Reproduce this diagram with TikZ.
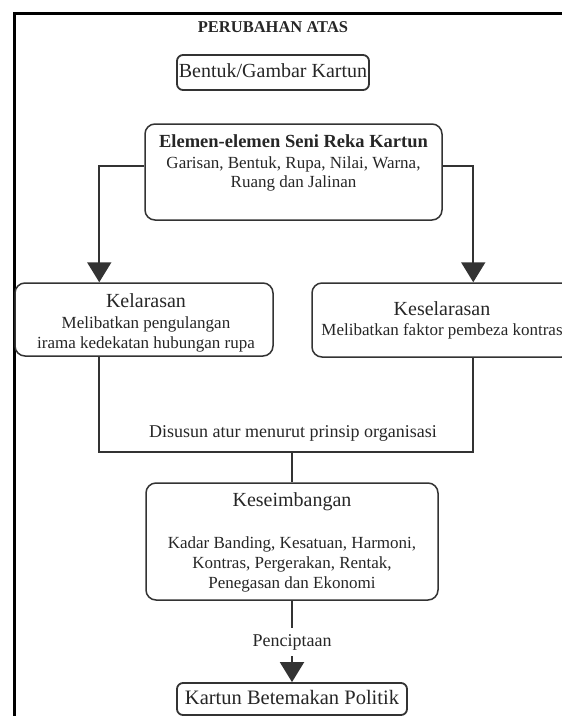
\documentclass[tikz,border=0pt]{standalone}
\usepackage{fontspec}
\setmainfont{Liberation Serif}
\usetikzlibrary{arrows.meta}
\tikzset{
  box/.style={draw=black!80,line width=1.5pt,rounded corners=10pt,inner sep=0pt},
  tag/.style={draw=black!80,line width=1.8pt,rounded corners=6pt,inner sep=0pt,
    text=black!85,text height=14pt,text depth=4pt,font=\fontsize{20}{24}\selectfont},
  head/.style={anchor=base,text=black!85,inner sep=0pt,font=\fontsize{20}{24}\selectfont},
  body/.style={anchor=base,text=black!85,inner sep=0pt,font=\fontsize{17}{20}\selectfont},
  link/.style={draw=black!80,line width=2pt},
  tip/.style={-{Triangle[width=24pt,length=20pt]}}
}
\begin{document}
\begin{tikzpicture}[x=1pt,y=-1pt]
    \useasboundingbox (0,0) rectangle (562,716);
    %% frame
    \draw[line width=3pt] (14,740) -- (14,13) -- (600,13);
    %% title
    \node[head,font=\bfseries\fontsize{16.5}{20}\selectfont] (title) at (273,32) {PERUBAHAN ATAS};
    \node[tag,minimum width=192pt,minimum height=35pt] (bentuk) at (273,72.5) {Bentuk/Gambar Kartun};
    %% elemen
    \node[box,minimum width=297pt,minimum height=96pt] (elemen) at (293.5,172) {};
    \node[head,font=\bfseries\fontsize{18.5}{22}\selectfont] (elemenT) at (293.5,147) {Elemen-elemen Seni Reka Kartun};
    \foreach \y/\t [count=\i] in {168/{Garisan, Bentuk, Rupa, Nilai, Warna,},187/{Ruang dan Jalinan}}
        \node[body] (elemen\i) at (293.5,\y) {\t};
    %% kelarasan, keselarasan
    \node[box,minimum width=258pt,minimum height=73pt] (kelarasan) at (144,319.5) {};
    \node[head] (kelarasanT) at (146,307) {Kelarasan};
    \foreach \y/\t [count=\i] in {328/{Melibatkan pengulangan},348/{irama kedekatan hubungan rupa}}
        \node[body] (kelarasan\i) at (146,\y) {\t};
    \node[box,minimum width=260pt,minimum height=74pt] (keselarasan) at (442,320) {};
    \node[head] (keselarasanT) at (442,315) {Keselarasan};
    \node[body] (keselarasan1) at (442,335) {Melibatkan faktor pembeza kontras};
    \draw[link,tip] ([yshift=6pt]elemen.west) -| ([xshift=85pt]kelarasan.north west);
    \draw[link,tip] ([yshift=6pt]elemen.east) -| ([xshift=162pt]keselarasan.north west);
    %% organisasi
    \coordinate (join) at (292,452);
    \node[body,font=\fontsize{18}{22}\selectfont] (disusun) at (293,437) {Disusun atur menurut prinsip organisasi};
    \draw[link] ([xshift=85pt]kelarasan.south west) |- (join) -| ([xshift=162pt]keselarasan.south west);
    %% keseimbangan
    \node[box,minimum width=292pt,minimum height=117pt] (keseimbangan) at (292,541.5) {};
    \node[head] (keseimbanganT) at (292,506) {Keseimbangan};
    \foreach \y/\t [count=\i] in {548/{Kadar Banding, Kesatuan, Harmoni,},568/{Kontras, Pergerakan, Rentak,},588/{Penegasan dan Ekonomi}}
        \node[body] (keseimbangan\i) at (292,\y) {\t};
    \draw[link] (join) -- (keseimbangan.north);
    %% penciptaan
    \node[body,font=\fontsize{18}{22}\selectfont,inner sep=6pt] (cipta) at (292,646) {Penciptaan};
    \node[tag,minimum width=230pt,minimum height=32pt,font=\fontsize{20.5}{24}\selectfont] (kartun) at (292,699) {Kartun Betemakan Politik};
    \draw[link] (keseimbangan.south) -- (cipta.north);
    \draw[link,tip] (cipta.south) -- (kartun.north);
\end{tikzpicture}
\end{document}
